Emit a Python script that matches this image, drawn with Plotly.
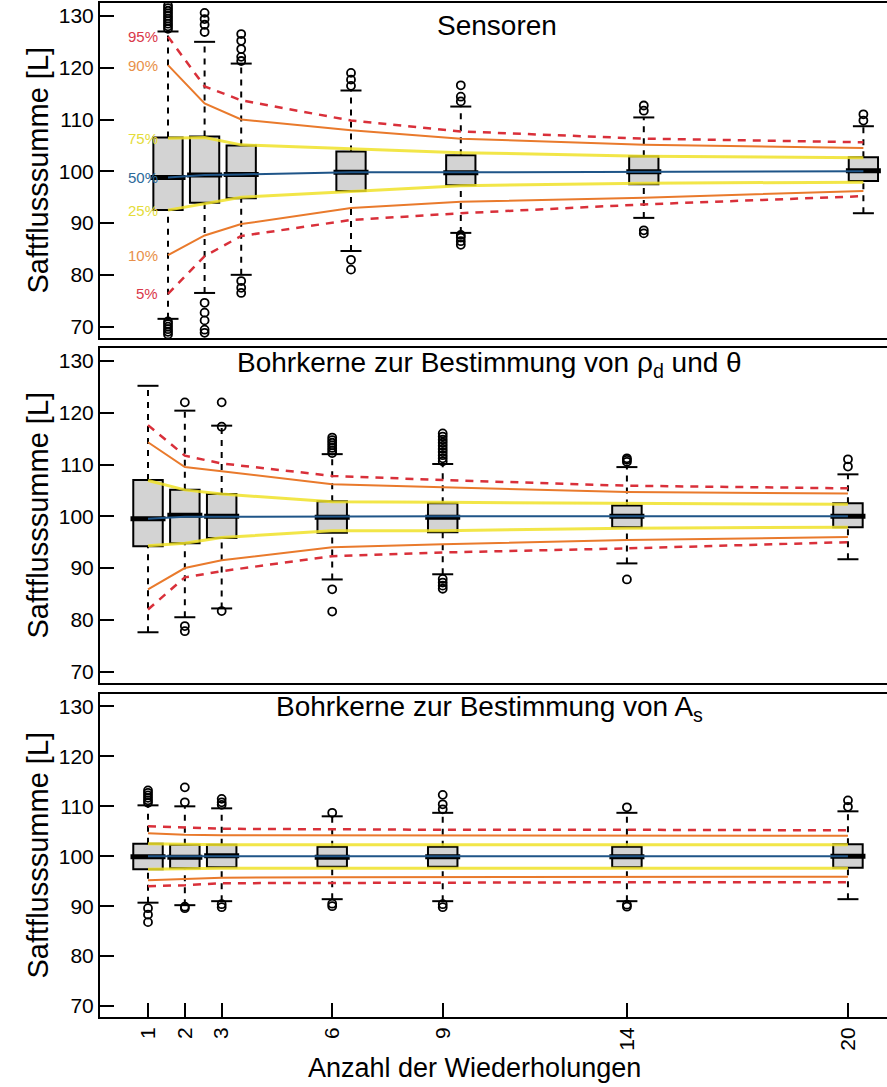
import plotly.graph_objects as go

# ---------------- data ----------------
N = [1, 2, 3, 6, 9, 14, 20]
x_ticktext = ["1", "2", "3", "6", "9", "14", "20"]
y_ticks = [70, 80, 90, 100, 110, 120, 130]

panel_titles = ["Sensoren",
                "Bohrkerne zur Bestimmung von ρ<sub>d</sub> und θ",
                "Bohrkerne zur Bestimmung von A<sub>s</sub>"]
y_title = "Saftflusssumme [L]"
x_title = "Anzahl der Wiederholungen"
pct_names = ["95%", "90%", "75%", "50%", "25%", "10%", "5%"]

# Panel 1: Sensoren
s_q1 = [92.5, 93.9, 94.8, 96.2, 97.3, 97.5, 98.1]
s_med = [98.8, 99.3, 99.4, 99.8, 99.7, 99.9, 100.1]
s_q3 = [106.5, 106.7, 105.0, 103.8, 103.1, 102.9, 102.7]
s_lo = [71.5, 76.5, 80.0, 84.6, 88.1, 91.0, 91.9]
s_hi = [127.0, 125.0, 120.8, 115.6, 112.5, 110.4, 108.7]
s_out = [[127.5, 128.0, 128.5, 129.0, 129.5, 130.0, 130.5, 131.0, 131.5, 132.0,
          71.0, 70.5, 70.0, 69.5, 69.0, 68.5],
         [126.9, 128.3, 129.4, 130.6, 74.6, 72.7, 71.2, 69.4, 68.8],
         [121.3, 122.1, 123.6, 125.2, 126.5, 78.8, 77.5, 76.5],
         [116.5, 117.7, 119.0, 82.9, 81.0],
         [113.5, 114.4, 116.6, 87.7, 87.2, 86.5, 85.8],
         [111.7, 112.7, 88.6, 88.0],
         [109.8, 111.0]]
s_p95 = [126.0, 116.4, 113.7, 109.8, 107.7, 106.3, 105.6]
s_p90 = [120.5, 113.1, 110.0, 107.9, 106.3, 105.1, 104.5]
s_p75 = [106.4, 106.5, 105.1, 104.3, 103.6, 102.9, 102.6]
s_p50 = [98.8, 99.3, 99.4, 99.8, 99.8, 99.9, 100.0]
s_p25 = [92.5, 93.8, 95.0, 96.1, 97.2, 97.7, 97.9]
s_p10 = [83.8, 87.6, 89.8, 92.9, 94.1, 94.9, 96.2]
s_p05 = [76.3, 83.6, 87.5, 90.6, 91.9, 93.6, 95.2]

# Panel 2: Bohrkerne rho_d / theta
m_q1 = [94.2, 94.8, 95.8, 96.8, 96.9, 97.9, 97.9]
m_med = [99.5, 100.2, 100.0, 99.8, 99.8, 100.0, 100.0]
m_q3 = [107.0, 105.1, 104.3, 102.9, 102.5, 102.1, 102.5]
m_lo = [77.6, 80.5, 82.2, 87.8, 88.8, 90.9, 91.7]
m_hi = [125.2, 120.4, 117.5, 112.0, 110.1, 109.5, 108.1]
m_out = [[],
         [122.0, 78.8, 77.8],
         [122.0, 117.3, 81.7],
         [112.2, 112.7, 113.2, 113.7, 114.2, 114.7, 115.2, 85.9, 81.6],
         [110.6, 111.2, 111.8, 112.4, 113.0, 113.6, 114.2, 114.8, 115.4, 116.0,
          87.9, 87.2, 86.6, 86.0],
         [110.5, 110.9, 111.2, 87.8],
         [109.6, 111.0]]
m_p95 = [117.6, 111.7, 110.2, 107.8, 107.0, 105.9, 105.4]
m_p90 = [114.3, 109.5, 108.7, 106.2, 105.6, 104.7, 104.4]
m_p75 = [106.9, 105.1, 104.3, 102.8, 102.7, 102.5, 102.3]
m_p50 = [99.5, 99.9, 99.9, 100.0, 100.0, 100.0, 100.0]
m_p25 = [94.3, 94.8, 95.9, 97.2, 97.2, 97.7, 97.9]
m_p10 = [85.9, 90.0, 91.5, 94.0, 94.6, 95.4, 96.0]
m_p05 = [82.0, 88.2, 89.4, 92.3, 93.0, 93.8, 95.0]

# Panel 3: Bohrkerne A_s
b_q1 = [97.4, 97.6, 97.8, 97.9, 97.9, 97.8, 97.7]
b_med = [99.9, 99.8, 100.1, 99.8, 99.9, 99.9, 100.0]
b_q3 = [102.5, 102.3, 102.3, 101.9, 101.9, 101.9, 102.4]
b_lo = [90.7, 90.2, 91.0, 91.4, 91.0, 91.0, 91.4]
b_hi = [110.2, 110.0, 109.6, 108.0, 108.7, 108.7, 109.0]
b_out = [[110.7, 111.2, 111.7, 112.2, 112.7, 113.2, 89.6, 88.3, 86.8],
         [110.8, 113.8, 89.9, 89.6],
         [110.3, 110.8, 111.5, 90.4, 89.8],
         [108.7, 90.5, 90.0],
         [109.4, 110.4, 112.3, 90.4, 89.8],
         [109.8, 90.3, 89.9],
         [109.9, 111.2]]
b_p95 = [106.0, 105.7, 105.5, 105.4, 105.3, 105.3, 105.2]
b_p90 = [104.6, 104.3, 104.2, 104.2, 104.2, 104.1, 104.1]
b_p75 = [102.5, 102.4, 102.3, 102.3, 102.3, 102.3, 102.3]
b_p50 = [100.0, 100.0, 100.0, 100.0, 100.0, 100.0, 100.0]
b_p25 = [97.4, 97.5, 97.6, 97.6, 97.6, 97.6, 97.6]
b_p10 = [95.2, 95.5, 95.7, 95.8, 95.8, 95.9, 95.9]
b_p05 = [94.0, 94.2, 94.6, 94.7, 94.7, 94.8, 94.8]

# ---------------- styles ----------------
FONT = "Liberation Sans, Arial, Helvetica, sans-serif"
RED = "#d9303a"
ORANGE = "#e97a2c"
YELLOW = "rgba(240,226,40,0.85)"
BLUE = "#1f5588"
LBL_COL = {"95%": "#d9384a", "90%": "#e8904a", "75%": "#e4dc3a", "50%": "#2c6a9a",
           "25%": "#e4dc3a", "10%": "#e8904a", "5%": "#d9384a"}

panels = [
    dict(q1=s_q1, med=s_med, q3=s_q3, lo=s_lo, hi=s_hi, out=s_out,
         p=[s_p95, s_p90, s_p75, s_p50, s_p25, s_p10, s_p05]),
    dict(q1=m_q1, med=m_med, q3=m_q3, lo=m_lo, hi=m_hi, out=m_out,
         p=[m_p95, m_p90, m_p75, m_p50, m_p25, m_p10, m_p05]),
    dict(q1=b_q1, med=b_med, q3=b_q3, lo=b_lo, hi=b_hi, out=b_out,
         p=[b_p95, b_p90, b_p75, b_p50, b_p25, b_p10, b_p05]),
]
axis_ids = [("x", "y"), ("x2", "y2"), ("x3", "y3")]

fig = go.Figure()

for pan, (xa, ya) in zip(panels, axis_ids):
    # dashed whiskers
    wx, wy = [], []
    for n, q1, q3, lo, hi in zip(N, pan["q1"], pan["q3"], pan["lo"], pan["hi"]):
        wx += [n, n, None, n, n, None]
        wy += [q3, hi, None, lo, q1, None]
    fig.add_trace(go.Scatter(x=wx, y=wy, mode="lines", xaxis=xa, yaxis=ya,
                             line=dict(color="black", width=2, dash="6px,6px"),
                             hoverinfo="skip", showlegend=False))
    # whisker caps
    fig.add_trace(go.Scatter(x=N + N, y=pan["lo"] + pan["hi"], mode="markers",
                             xaxis=xa, yaxis=ya,
                             marker=dict(symbol="line-ew", size=15, color="black",
                                         line=dict(color="black", width=2)),
                             hoverinfo="skip", showlegend=False))
    # outliers
    ox, oy = [], []
    for n, vals in zip(N, pan["out"]):
        ox += [n] * len(vals)
        oy += vals
    fig.add_trace(go.Scatter(x=ox, y=oy, mode="markers", xaxis=xa, yaxis=ya,
                             marker=dict(symbol="circle-open", size=8, color="black",
                                         line=dict(color="black", width=1.8)),
                             hoverinfo="skip", showlegend=False, cliponaxis=True))
    # boxes
    fig.add_trace(go.Box(x=N, q1=pan["q1"], median=pan["med"], q3=pan["q3"],
                         lowerfence=pan["q1"], upperfence=pan["q3"],
                         width=0.8, fillcolor="#d3d3d3",
                         line=dict(color="black", width=2),
                         boxpoints=False, xaxis=xa, yaxis=ya,
                         hoverinfo="skip", showlegend=False))
    # thick medians
    fig.add_trace(go.Scatter(x=N, y=pan["med"], mode="markers", xaxis=xa, yaxis=ya,
                             marker=dict(symbol="line-ew", size=25, color="black",
                                         line=dict(color="black", width=5)),
                             hoverinfo="skip", showlegend=False))
    # percentile lines
    p95, p90, p75, p50, p25, p10, p05 = pan["p"]
    for vals, col, w, dash in [(p75, YELLOW, 3, None), (p25, YELLOW, 3, None),
                               (p90, ORANGE, 2, None), (p10, ORANGE, 2, None),
                               (p95, RED, 2.5, "8px,7px"), (p05, RED, 2.5, "8px,7px"),
                               (p50, BLUE, 2, None)]:
        fig.add_trace(go.Scatter(x=N, y=vals, mode="lines", xaxis=xa, yaxis=ya,
                                 line=dict(color=col, width=w, dash=dash),
                                 hoverinfo="skip", showlegend=False))

# percentile labels (top panel only)
for name, vals in zip(pct_names, panels[0]["p"]):
    fig.add_annotation(x=N[0], y=vals[0], xref="x", yref="y", text=name,
                       showarrow=False, xanchor="right", yanchor="middle", xshift=-8,
                       font=dict(family=FONT, size=15, color=LBL_COL[name]))

# geometry
W, H = 887, 1087
ML, MR, MT, MB = 100, 0, 3, 70
PH = H - MT - MB
def dom(top_px, bot_px):
    return [(H - MB - bot_px) / PH, (H - MB - top_px) / PH]

domains = [dom(3, 338), dom(348, 683), dom(694, 1017)]
xranges = [[-0.858, 20.645], [-0.303, 21.06], [-0.303, 21.06]]

axis_common = dict(showgrid=False, zeroline=False, showline=True,
                   linecolor="black", linewidth=2)
layout = dict(width=W, height=H, margin=dict(l=ML, r=MR, t=MT, b=MB),
              paper_bgcolor="white", plot_bgcolor="white",
              font=dict(family=FONT, color="black"), showlegend=False)

for i, (d, xr) in enumerate(zip(domains, xranges)):
    sfx = "" if i == 0 else str(i + 1)
    xa = dict(axis_common, domain=[0, 1], range=xr, mirror=True,
              anchor="y" + sfx)
    if i == 2:
        xa.update(tickmode="array", tickvals=N, ticktext=x_ticktext,
                  ticks="inside", ticklen=14, tickwidth=2, tickcolor="black",
                  tickangle=-90, tickfont=dict(family=FONT, size=21))
    else:
        xa.update(showticklabels=False, ticks="")
    ya = dict(axis_common, domain=d, range=[67.8, 132.5], mirror=False,
              anchor="x" + sfx, tickmode="array", tickvals=y_ticks,
              ticks="inside", ticklen=14, tickwidth=2, tickcolor="black",
              tickfont=dict(family=FONT, size=21))
    layout["xaxis" + sfx] = xa
    layout["yaxis" + sfx] = ya

fig.update_layout(**layout)

# panel titles
title_pos = [(497, 25), (489, 364), (489, 708)]
for t, (px, py) in zip(panel_titles, title_pos):
    fig.add_annotation(x=(px - ML) / (W - ML - MR), y=(H - MB - py) / PH,
                       xref="paper", yref="paper", text=t, showarrow=False,
                       xanchor="center", yanchor="middle",
                       font=dict(family=FONT, size=28, color="black"))

# y axis titles
for d in domains:
    fig.add_annotation(x=0, y=(d[0] + d[1]) / 2, xref="paper", yref="paper",
                       xshift=-63, text=y_title, textangle=-90, showarrow=False,
                       xanchor="center", yanchor="middle",
                       font=dict(family=FONT, size=29, color="black"))

# x axis title
fig.add_annotation(x=(474 - ML) / (W - ML - MR), y=-(1068 - (H - MB)) / PH,
                   xref="paper", yref="paper", text=x_title, showarrow=False,
                   xanchor="center", yanchor="middle",
                   font=dict(family=FONT, size=27, color="black"))

fig.write_html("out.html")
